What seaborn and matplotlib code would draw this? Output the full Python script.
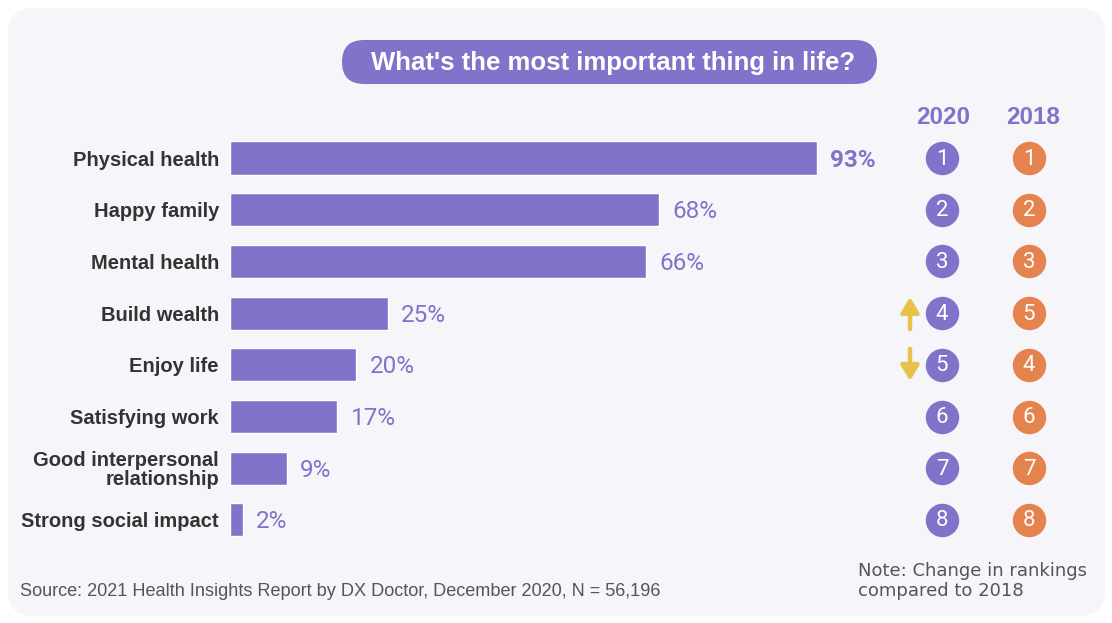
import matplotlib
matplotlib.use("Agg")
import matplotlib.pyplot as plt
import seaborn as sns
import pandas as pd
from matplotlib.patches import FancyBboxPatch

# ---- data ----
categories = ["Physical health", "Happy family", "Mental health", "Build wealth",
              "Enjoy life", "Satisfying work", "Good interpersonal\nrelationship",
              "Strong social impact"]
shares = [93, 68, 66, 25, 20, 17, 9, 2]
rank_2020 = [1, 2, 3, 4, 5, 6, 7, 8]
rank_2018 = [1, 2, 3, 5, 4, 6, 7, 8]
change = [0, 0, 0, 1, -1, 0, 0, 0]   # +1 up, -1 down vs 2018
title = "What's the most important thing in life?"
col_headers = ["2020", "2018"]
source = "Source: 2021 Health Insights Report by DX Doctor, December 2020, N = 56,196"
note = "Note: Change in rankings\ncompared to 2018"

PURPLE = "#8073c9"
ORANGE = "#e5834f"
GOLD = "#e8c04a"
DARK = "#333333"
GREY = "#555555"
PANEL = "#f6f6fa"

sns.set_theme(style="white")
plt.rcParams["font.family"] = ["Liberation Sans", "DejaVu Sans"]

W, H = 1112, 623
fig = plt.figure(figsize=(W / 100, H / 100), dpi=100)
fig.patch.set_facecolor("white")

# background axes in pixel coordinates
bg = fig.add_axes([0, 0, 1, 1], zorder=0)
bg.set_xlim(0, W)
bg.set_ylim(H, 0)
bg.axis("off")
bg.add_patch(FancyBboxPatch((8, 8), W - 15, H - 15,
                            boxstyle="round,pad=0,rounding_size=26",
                            fc=PANEL, ec="none"))
bg.add_patch(FancyBboxPatch((342, 40), 535, 44,
                            boxstyle="round,pad=0,rounding_size=22",
                            fc=PURPLE, ec="none"))
bg.text(613, 63, title, ha="center", va="center", color="white",
        fontsize=18.5, fontweight="bold")
bg.text(20, 592, source, ha="left", va="center", color=GREY, fontsize=13.1)
bg.text(858, 581, note, ha="left", va="center", color=GREY, fontsize=13,
        linespacing=1.2, family=["DejaVu Sans"])

# main bar axes
row_h = 51.7
top_px = 158 - row_h / 2
bot_px = top_px + 8 * row_h
ax = fig.add_axes([230 / W, (H - bot_px) / H, 631 / W, 8 * row_h / H], zorder=2)
ax.patch.set_alpha(0)
df = pd.DataFrame({"cat": categories, "share": shares})
sns.barplot(data=df, x="share", y="cat", color=PURPLE, saturation=1,
            width=0.64, ax=ax)
ax.set_xlim(0, 100)
ax.set_ylim(7.5, -0.5)
ax.set_xlabel("")
ax.set_ylabel("")
ax.set_xticks([])
ax.tick_params(axis="y", length=0, pad=8)
for lab in ax.get_yticklabels():
    lab.set_fontweight("bold")
    lab.set_fontsize(14.5)
    lab.set_color(DARK)
    lab.set_linespacing(1.0)
sns.despine(ax=ax, left=True, bottom=True)
for i, v in enumerate(shares):
    ax.text(v + 2.1, i + 0.04, f"{v}%", va="center", ha="left", color=PURPLE,
            fontsize=17.5, fontweight="bold" if i == 0 else "normal",
            family=["Roboto", "DejaVu Sans"])

# rank axes (pixel x coords)
rax = fig.add_axes([880 / W, (H - bot_px) / H, 220 / W, 8 * row_h / H], zorder=3)
rax.patch.set_alpha(0)
rax.set_xlim(880, 1100)
rax.set_ylim(7.5, -0.5)
rax.axis("off")
ys = list(range(len(categories)))
sns.scatterplot(x=[942] * len(ys), y=ys, s=580, color=PURPLE, linewidth=0,
                ax=rax, legend=False, clip_on=False)
sns.scatterplot(x=[1029] * len(ys), y=ys, s=580, color=ORANGE, linewidth=0,
                ax=rax, legend=False, clip_on=False)
for i in ys:
    rax.text(942, i + 0.02, str(rank_2020[i]), ha="center", va="center",
             color="white", fontsize=16, family=["Roboto", "DejaVu Sans"])
    rax.text(1029, i + 0.02, str(rank_2018[i]), ha="center", va="center",
             color="white", fontsize=16, family=["Roboto", "DejaVu Sans"])
    if change[i] != 0:
        d = change[i]
        rax.annotate("", xy=(910, i - 0.31 * d), xytext=(910, i + 0.31 * d),
                     arrowprops=dict(arrowstyle="-|>,head_width=0.45,head_length=0.75",
                                     color=GOLD, lw=3.2, shrinkA=0, shrinkB=0))
hy = (117 - 158) / row_h
rax.text(943, hy, col_headers[0], ha="center", va="center", color=PURPLE,
         fontsize=17.5, fontweight="bold", clip_on=False)
rax.text(1033, hy, col_headers[1], ha="center", va="center", color=PURPLE,
         fontsize=17.5, fontweight="bold", clip_on=False)

fig.savefig("out.png", dpi=100, facecolor="white")
